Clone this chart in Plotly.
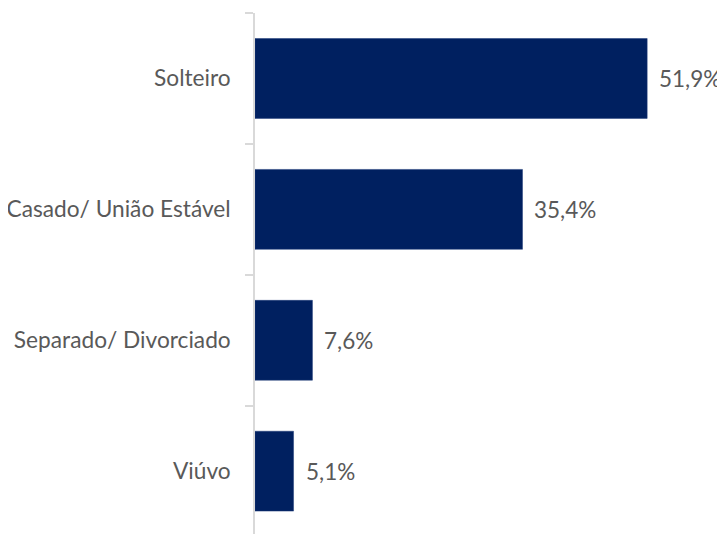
import plotly.graph_objects as go

categorias = ["Solteiro", "Casado/ União Estável", "Separado/ Divorciado", "Viúvo"]
valores = [51.9, 35.4, 7.6, 5.1]

cor_barra = "#002060"
cor_texto = "#595959"

fig = go.Figure(
    go.Bar(
        x=valores,
        y=categorias,
        orientation="h",
        marker=dict(color=cor_barra, line=dict(color="#1F3A78", width=0.5)),
        hoverinfo="skip",
    )
)

# rótulos de valor à direita das barras
for cat, v in zip(categorias, valores):
    fig.add_annotation(
        x=v, y=cat,
        text=f"{v:.1f}%".replace(".", ","),
        showarrow=False,
        xanchor="left",
        xshift=10,
        font=dict(family="Lato", size=22.5, color=cor_texto),
    )

# a página tem margem de 8px no body, por isso a figura é 8px menor
fig.update_layout(
    width=717,
    height=526,
    margin=dict(l=247, r=0, t=5, b=0),
    plot_bgcolor="white",
    paper_bgcolor="white",
    bargap=0.39,
    showlegend=False,
    xaxis=dict(
        range=[0, 62.2],
        visible=False,
        showgrid=False,
        zeroline=False,
    ),
    yaxis=dict(
        range=[3.48, -0.5],
        showline=True,
        linecolor="#D9D9D9",
        linewidth=1.5,
        ticks="outside",
        tickson="boundaries",
        ticklen=8,
        tickcolor="#D9D9D9",
        tickwidth=1.5,
        ticklabelstandoff=18,
        showgrid=False,
        tickfont=dict(family="Lato", size=22.7, color=cor_texto),
    ),
)

fig.write_html("out.html")
